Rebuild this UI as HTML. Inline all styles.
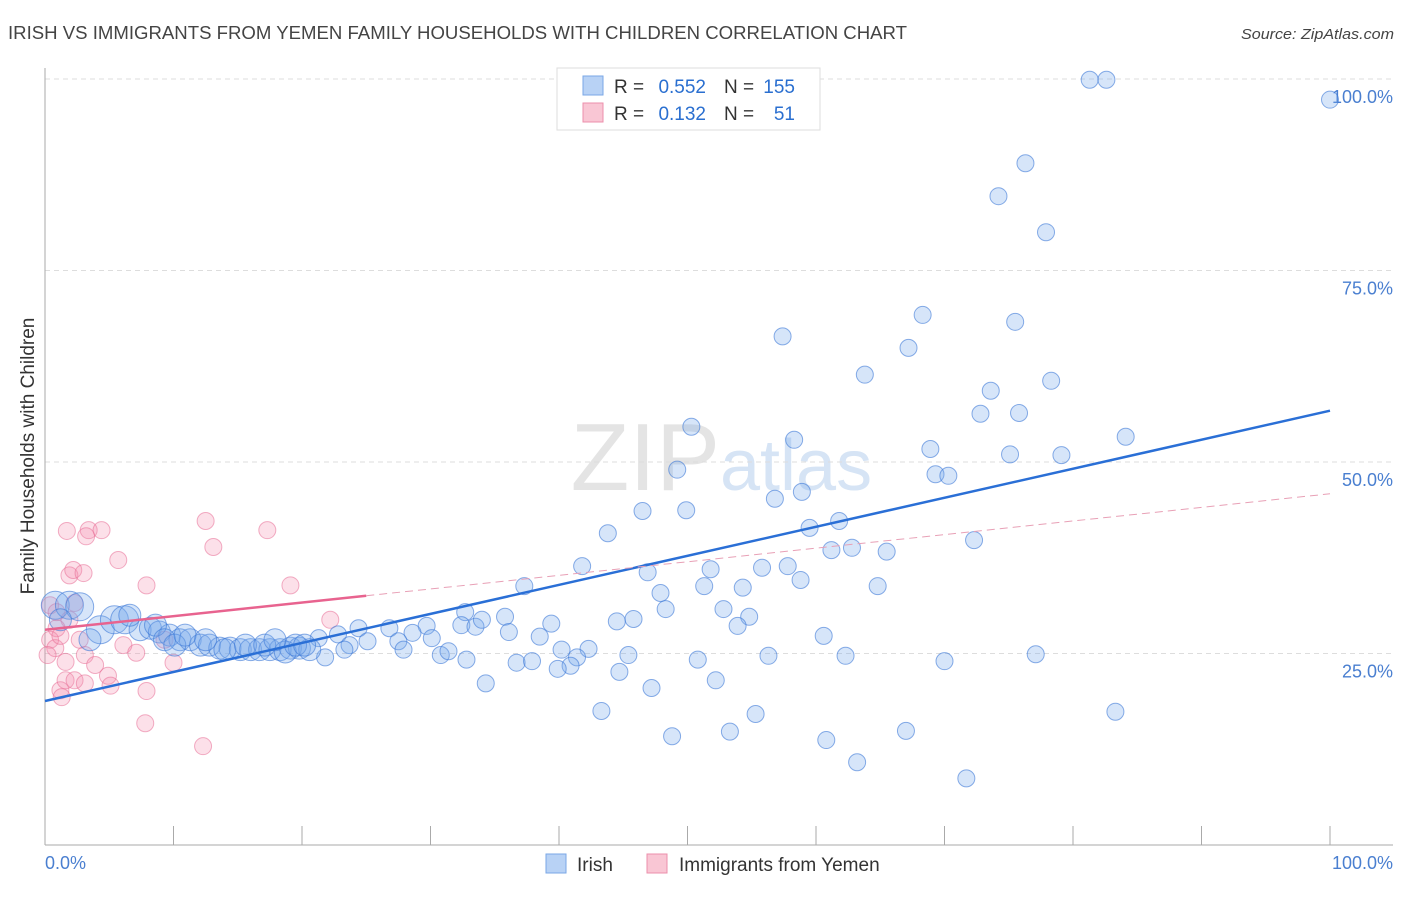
<!DOCTYPE html>
<html><head><meta charset="utf-8"><style>
body{margin:0;background:#fff;width:1406px;height:892px;overflow:hidden;font-family:"Liberation Sans",sans-serif;}
svg text{font-family:"Liberation Sans",sans-serif;}
</style></head><body>
<svg id="chart" width="1406" height="892">
<text x="8" y="39" font-size="18" fill="#444" textLength="899" lengthAdjust="spacingAndGlyphs">IRISH VS IMMIGRANTS FROM YEMEN FAMILY HOUSEHOLDS WITH CHILDREN CORRELATION CHART</text>
<text x="1241" y="39" font-size="15" fill="#444" font-style="italic" textLength="153" lengthAdjust="spacingAndGlyphs">Source: ZipAtlas.com</text>
<text x="720" y="490" font-size="96" fill="#e4e4e4" text-anchor="end" font-family="Liberation Serif">ZIP</text>
<text x="720" y="490" font-size="72" fill="#d6e4f5">atlas</text>
<g id="grid"></g><g id="axes"></g><g id="marks"></g><g id="lines"></g>
<text transform="translate(34,456) rotate(-90)" font-size="19" fill="#333" text-anchor="middle">Family Households with Children</text>
<g>
<rect x="557" y="68" width="263" height="62" fill="#fff" stroke="#ddd"/>
<rect x="583" y="76" width="20" height="19" fill="#b8d2f5" stroke="#7aa7e6"/>
<rect x="583" y="103" width="20" height="19" fill="#f9c6d4" stroke="#ec8fab"/>
<text x="614" y="93" font-size="19" fill="#333">R =</text>
<text x="706" y="93" font-size="19" fill="#2a6fd0" text-anchor="end">0.552</text>
<text x="724" y="93" font-size="19" fill="#333">N =</text>
<text x="795" y="93" font-size="19" fill="#2a6fd0" text-anchor="end">155</text>
<text x="614" y="120" font-size="19" fill="#333">R =</text>
<text x="706" y="120" font-size="19" fill="#2a6fd0" text-anchor="end">0.132</text>
<text x="724" y="120" font-size="19" fill="#333">N =</text>
<text x="795" y="120" font-size="19" fill="#2a6fd0" text-anchor="end">51</text>
</g>
<g>
<rect x="546" y="854" width="20" height="19" fill="#b8d2f5" stroke="#7aa7e6"/>
<text x="577" y="871" font-size="19" fill="#333">Irish</text>
<rect x="647" y="854" width="20" height="19" fill="#f9c6d4" stroke="#ec8fab"/>
<text x="679" y="871" font-size="19" fill="#333">Immigrants from Yemen</text>
</g>
</svg>
<script>
const blueX=[81.3,82.6,100,76.3,74.2,77.9,68.3,75.5,57.4,67.2,63.8,78.3,73.6,72.8,75.8,50.3,84.1,58.3,68.9,75.1,79.1,49.2,69.3,70.3,58.9,56.8,46.5,49.9,61.8,59.5,43.8,72.3,62.8,61.2,65.5,41.8,51.8,55.8,57.8,46.9,58.8,37.3,51.3,54.3,64.8,47.9,48.3,52.8,39.4,44.5,45.8,54.8,53.9,35.8,36.1,38.5,60.6,40.2,42.3,45.4,41.4,40.9,39.9,36.7,37.9,50.8,56.3,62.3,70.0,77.1,44.7,52.2,47.2,34.3,43.3,55.3,83.3,48.8,53.3,67.0,60.8,63.2,71.7,
32.7,32.4,33.5,34.0,29.7,30.1,28.6,26.8,27.5,24.4,22.8,21.3,25.1,23.7,30.8,31.4,32.8,27.9,21.8,23.3,
0.8,1.9,2.7,4.3,5.4,6.2,7.4,8.2,8.9,9.7,10.5,11.3,12.1,12.8,13.6,14.4,15.2,16.0,16.7,17.5,18.3,19.1,19.8,20.6,6.6,8.6,9.3,10.1,10.9,12.5,14.0,15.6,17.1,18.7,19.5,20.2,17.9,1.2,3.5];
const blueY=[99.9,99.9,97.3,89.0,84.7,80.0,69.2,68.3,66.4,64.9,61.4,60.6,59.3,56.3,56.4,54.6,53.3,52.9,51.7,51.0,50.9,49.0,48.4,48.2,46.1,45.2,43.6,43.7,42.3,41.4,40.7,39.8,38.8,38.5,38.3,36.4,36.0,36.2,36.4,35.6,34.6,33.8,33.8,33.6,33.8,32.9,30.8,30.8,28.9,29.2,29.5,29.8,28.6,29.8,27.8,27.2,27.3,25.5,25.6,24.8,24.5,23.4,23.0,23.8,24.0,24.2,24.7,24.7,24.0,24.9,22.6,21.5,20.5,21.1,17.5,17.1,17.4,14.2,14.8,14.9,13.7,10.8,8.7,
30.4,28.7,28.5,29.4,28.6,27.0,27.7,28.3,26.6,28.3,27.5,27.0,26.6,26.1,24.8,25.3,24.2,25.5,24.5,25.5,
31.3,31.3,31.1,28.1,29.4,29.4,28.1,28.3,27.8,27.4,26.8,26.8,26.1,26.1,25.7,25.7,25.5,25.5,25.5,25.5,25.5,25.7,25.7,25.5,30.0,28.7,26.8,26.1,27.4,26.8,25.5,26.1,26.1,25.2,26.1,26.1,26.8,29.4,26.8];
const bigBlue=[0.8,1.9,2.7,4.3,5.4,6.2];
const pinkX=[1.7,3.4,4.4,3.2,5.7,7.9,12.5,13.1,17.3,19.1,1.9,2.2,3.0,0.4,2.3,1.9,0.9,0.4,0.8,1.2,0.2,1.6,3.1,3.9,6.1,7.1,9.3,10.0,1.2,1.6,2.3,4.9,3.1,5.1,7.9,1.3,7.8,12.3,22.2,2.7,0.9];
const pinkY=[41.0,41.1,41.1,40.3,37.2,33.9,42.3,38.9,41.1,33.9,35.2,35.9,35.5,31.3,31.6,29.4,28.3,26.8,25.7,27.3,24.8,23.9,24.8,23.5,26.1,25.1,26.8,23.8,20.2,21.5,21.5,22.1,21.1,20.8,20.1,19.3,15.9,12.9,29.4,26.8,30.4];
const blueTrend=[18.8,56.7];
const pinkTrend=[28.1,45.85];
const pinkSolidEnd=25;
const yTicks=[25,50,75,100];
const yTickLabels=["25.0%","50.0%","75.0%","100.0%"];
const xTicks=[0,10,20,30,40,50,60,70,80,90,100];

const X=v=>45+v*12.85, Y=v=>845-v*7.66;
const NS="http://www.w3.org/2000/svg";
function mk(p,t,a){const e=document.createElementNS(NS,t);for(const k in a)e.setAttribute(k,a[k]);p.appendChild(e);return e;}
const grid=document.getElementById('grid'),axes=document.getElementById('axes'),marks=document.getElementById('marks'),lines=document.getElementById('lines');
yTicks.forEach((t,i)=>{
 const l=mk(grid,'line',{x1:45,x2:1393,y1:Y(t),y2:Y(t),stroke:'#ddd','stroke-dasharray':'5,4'});
 
 
 const tx=mk(axes,'text',{x:1393,y:Y(t)+24,'font-size':18,fill:'#4a7fd0','text-anchor':'end'});
 tx.textContent=yTickLabels[i];
 
 
});
mk(axes,'line',{x1:45,x2:45,y1:68,y2:845,stroke:'#aaa'});
mk(axes,'line',{x1:45,x2:1393,y1:845,y2:845,stroke:'#aaa'});
xTicks.forEach(t=>{const l=mk(axes,'line',{x1:X(t),x2:X(t),y1:826,y2:845,stroke:'#aaa'});
 
 });
let t0=mk(axes,'text',{x:45,y:869,'font-size':18,fill:'#4a7fd0'});t0.textContent='0.0%';


let t1=mk(axes,'text',{x:1393,y:869,'font-size':18,fill:'#4a7fd0','text-anchor':'end'});t1.textContent='100.0%';


pinkX.forEach((x,i)=>{const c=mk(marks,'circle',{cx:X(x),cy:Y(pinkY[i]),r:8.5,fill:'rgba(244,143,177,0.28)',stroke:'rgba(232,110,150,0.55)'});
 
 });
blueX.forEach((x,i)=>{const r=bigBlue.includes(x)&&i>=103?14:(i>=103?11:8.5);
 const c=mk(marks,'circle',{cx:X(x),cy:Y(blueY[i]),r:r,fill:'rgba(120,170,235,0.3)',stroke:'rgba(60,120,215,0.6)'});
 
 });
let bl=mk(lines,'line',{x1:X(0),y1:Y(blueTrend[0]),x2:X(100),y2:Y(blueTrend[1]),stroke:'#2a6fd6','stroke-width':2.5});


const pAt=v=>pinkTrend[0]+(pinkTrend[1]-pinkTrend[0])*v/100;
let pl=mk(lines,'line',{x1:X(0),y1:Y(pAt(0)),x2:X(pinkSolidEnd),y2:Y(pAt(pinkSolidEnd)),stroke:'#e8638f','stroke-width':2.5});


let pd=mk(lines,'line',{x1:X(pinkSolidEnd),y1:Y(pAt(pinkSolidEnd)),x2:X(100),y2:Y(pAt(100)),stroke:'#e8a0b6','stroke-width':1,'stroke-dasharray':'8,5'});


</script>
</body></html>
